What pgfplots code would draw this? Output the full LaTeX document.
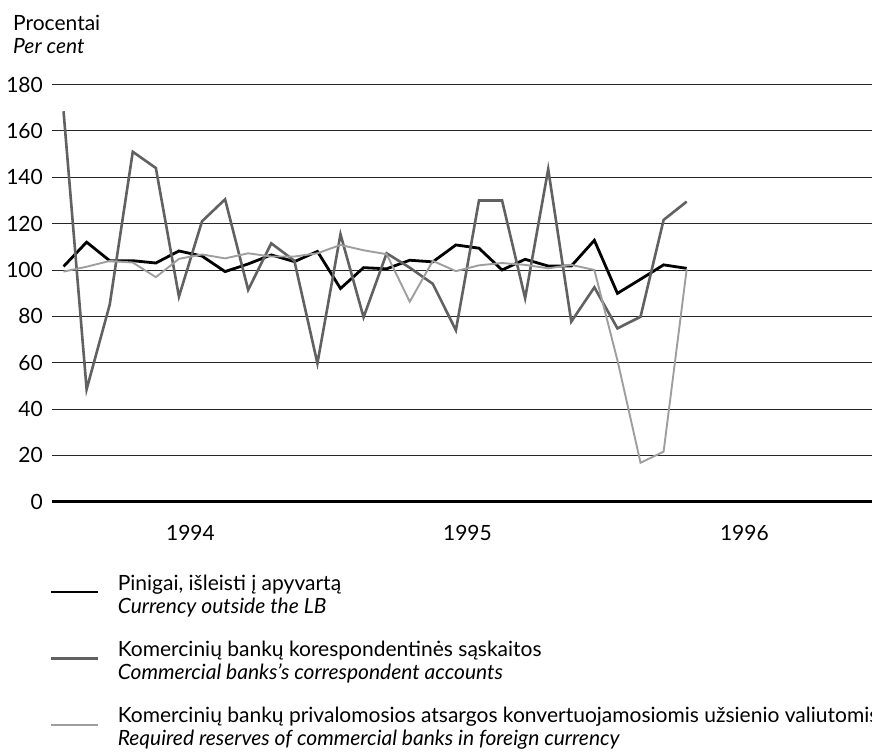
\documentclass[border=0pt]{standalone}
\usepackage{pgfplots}
\pgfplotsset{compat=1.18}
\usepackage{fontspec}
\setmainfont{Lato}
\pgfplotstableread{
x cur cor res
0.5 101.5 168.5 99.3
1.5 112.0 48.5 101.4
2.5 104.0 85.0 103.9
3.5 104.0 151.0 103.2
4.5 103.0 144.0 96.9
5.5 108.2 88.5 104.8
6.5 106.0 121.0 106.7
7.5 99.3 130.5 105.0
8.5 102.6 91.4 107.2
9.5 106.5 111.5 105.8
10.5 103.6 104.0 105.8
11.5 108.0 59.7 107.2
12.5 92.0 115.4 110.8
13.5 101.0 79.6 108.5
14.5 100.5 107.2 106.8
15.5 104.2 101.0 86.3
16.5 103.5 94.0 103.9
17.5 110.8 74.0 99.5
18.5 109.4 130.0 102.0
19.5 100.0 130.0 103.0
20.5 104.6 87.8 102.2
21.5 101.7 143.5 100.7
22.5 101.7 77.7 102.2
23.5 112.8 92.5 100.0
24.5 89.9 74.8 61.0
25.5 96.0 79.8 16.8
26.5 102.2 121.6 21.6
27.5 100.7 129.5 100.3
}\datatable
\newcommand\lfont{\fontsize{21bp}{23bp}\selectfont}
\begin{document}
\lfont
\begin{tikzpicture}[x=1bp,y=1bp]
\path[use as bounding box] (0,0) rectangle (872,753);
\begin{axis}[
  at={(52bp,251.3bp)}, anchor=south west,
  scale only axis, width=820bp, height=417.1bp,
  xmin=0, xmax=35.53, ymin=0, ymax=180,
  axis x line=bottom, axis y line=left,
  x axis line style={line width=2.4bp,-},
  y axis line style={draw=none},
  ytick={0,20,...,180},
  ymajorgrids, grid style={black!85, line width=0.9bp},
  major tick length=0pt,
  xtick={6,18,30}, xticklabels={1994,1995,1996},
  yticklabel style={anchor=east, inner sep=0pt, xshift=-9bp},
  xticklabel style={anchor=north, inner sep=0pt, yshift=-23bp},
  /pgf/number format/assume math mode=true,
  tick label style={font=\lfont},
  clip=false,
  legend style={at={(-0.00244,-0.1733)}, anchor=north west, draw=none, fill=none,
    inner sep=0pt, outer sep=0pt, row sep=47bp, column sep=18bp, font=\lfont,
    nodes={inner sep=0pt}},
  legend cell align=left,
  legend style={cells={anchor=base west}},
  legend image code/.code={\draw[#1] (0bp,-2bp) -- (47bp,-2bp);},
]
\addplot[black, line width=2.8bp, no marks] table[x=x,y=cur]{\datatable};
\addlegendentry{\begin{tabular}[t]{@{}l@{}}Pinigai, išleisti į apyvartą\\\textit{Currency outside the LB}\rule[-23bp]{0pt}{23bp}\end{tabular}}
\addplot[black!62, line width=2.6bp, no marks] table[x=x,y=cor]{\datatable};
\addlegendentry{\begin{tabular}[t]{@{}l@{}}Komercinių bankų korespondentinės sąskaitos\\\textit{Commercial banks's correspondent accounts}\end{tabular}}
\addplot[black!38, line width=1.9bp, no marks] table[x=x,y=res]{\datatable};
\addlegendentry{\begin{tabular}[t]{@{}l@{}}Komercinių bankų privalomosios atsargos konvertuojamosiomis užsienio valiutomis\\\textit{Required reserves of commercial banks in foreign currency}\end{tabular}}
\end{axis}
\node[anchor=base west, inner sep=0pt] at (13,722.3) {Procentai};
\node[anchor=base west, inner sep=0pt] at (13,699) {\textit{Per cent}};
\end{tikzpicture}
\end{document}
